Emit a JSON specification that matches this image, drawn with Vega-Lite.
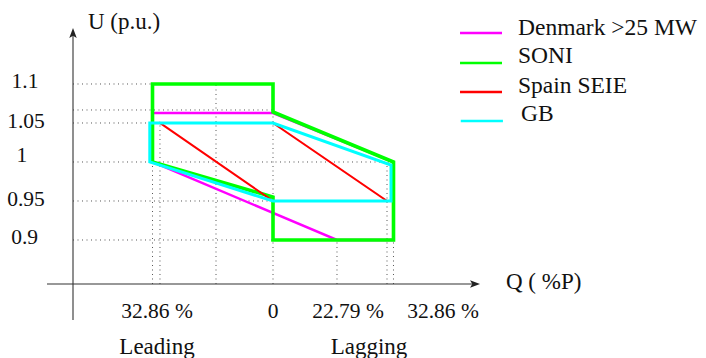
{
  "$schema": "https://vega.github.io/schema/vega-lite/v6.json",
  "width": 706,
  "height": 358,
  "autosize": "none",
  "padding": 0,
  "background": "white",
  "config": {"view": {"stroke": null}},
  "datasets": {
    "grid": [
      {"x": -54.54, "y": 1.1, "x2": -32.86, "y2": 1.1},
      {"x": -54.54, "y": 1.0667, "x2": 0, "y2": 1.0667},
      {"x": -54.54, "y": 1.05, "x2": -33.6, "y2": 1.05},
      {"x": -54.54, "y": 1.0, "x2": 32.86, "y2": 1.0},
      {"x": -54.54, "y": 0.95, "x2": 0, "y2": 0.95},
      {"x": -54.54, "y": 0.9, "x2": 0, "y2": 0.9},
      {"x": -32.86, "y": 0.8436, "x2": -32.86, "y2": 1.0},
      {"x": -30.82, "y": 0.8436, "x2": -30.82, "y2": 1.05},
      {"x": -15.54, "y": 0.8436, "x2": -15.54, "y2": 1.1},
      {"x": 0, "y": 0.8436, "x2": 0, "y2": 1.1},
      {"x": 17.45, "y": 0.8436, "x2": 17.45, "y2": 0.9},
      {"x": 31.09, "y": 0.8436, "x2": 31.09, "y2": 1.0},
      {"x": 32.86, "y": 0.8436, "x2": 32.86, "y2": 0.9}
    ],
    "axes": [
      {"x": -54.54, "y": 0.7974, "x2": -54.54, "y2": 1.1628},
      {"x": -61.63, "y": 0.8436, "x2": 55.5, "y2": 0.8436}
    ],
    "arrows": [
      {"dir": "up", "x": -54.54, "y": 1.1654},
      {"dir": "right", "x": 55.09, "y": 0.8436}
    ],
    "poly": [
      {"series": "Denmark >25 MW", "i": 0, "x": -32.86, "y": 1.0628},
      {"series": "Denmark >25 MW", "i": 1, "x": 0, "y": 1.0628},
      {"series": "Denmark >25 MW", "i": 2, "x": 32.86, "y": 1.0},
      {"series": "Denmark >25 MW", "i": 3, "x": 32.86, "y": 0.9},
      {"series": "Denmark >25 MW", "i": 4, "x": 17.45, "y": 0.9},
      {"series": "Denmark >25 MW", "i": 5, "x": -32.86, "y": 1.0},
      {"series": "Denmark >25 MW", "i": 6, "x": -32.86, "y": 1.0628},
      {"series": "SONI", "i": 0, "x": -32.86, "y": 1.1},
      {"series": "SONI", "i": 1, "x": 0, "y": 1.1},
      {"series": "SONI", "i": 2, "x": 0, "y": 1.0641},
      {"series": "SONI", "i": 3, "x": 32.86, "y": 1.0},
      {"series": "SONI", "i": 4, "x": 32.86, "y": 0.9},
      {"series": "SONI", "i": 5, "x": 0, "y": 0.9},
      {"series": "SONI", "i": 6, "x": 0, "y": 0.9551},
      {"series": "SONI", "i": 7, "x": -32.86, "y": 1.0},
      {"series": "SONI", "i": 8, "x": -32.86, "y": 1.1},
      {"series": "Spain SEIE", "i": 0, "x": -30.82, "y": 1.05},
      {"series": "Spain SEIE", "i": 1, "x": 0, "y": 1.05},
      {"series": "Spain SEIE", "i": 2, "x": 31.09, "y": 0.95},
      {"series": "Spain SEIE", "i": 3, "x": 0, "y": 0.95},
      {"series": "Spain SEIE", "i": 4, "x": -30.82, "y": 1.05},
      {"series": "GB", "i": 0, "x": -33.6, "y": 1.05},
      {"series": "GB", "i": 1, "x": 0, "y": 1.05},
      {"series": "GB", "i": 2, "x": 32.18, "y": 0.9962},
      {"series": "GB", "i": 3, "x": 32.18, "y": 0.95},
      {"series": "GB", "i": 4, "x": 0, "y": 0.95},
      {"series": "GB", "i": 5, "x": -33.6, "y": 1.0},
      {"series": "GB", "i": 6, "x": -33.6, "y": 1.05}
    ],
    "legend": [
      {"series": "Denmark >25 MW", "x": 51.0, "x2": 62.45, "y": 1.1654, "tx": 66.81, "ty": 1.1628},
      {"series": "SONI", "x": 51.0, "x2": 62.45, "y": 1.1269, "tx": 66.81, "ty": 1.1269},
      {"series": "Spain SEIE", "x": 51.0, "x2": 62.45, "y": 1.0897, "tx": 66.81, "ty": 1.0885},
      {"series": "GB", "x": 51.2, "x2": 62.7, "y": 1.0526, "tx": 67.63, "ty": 1.0526}
    ],
    "labelsC": [
      {"t": "1.1", "x": -67.63, "y": 1.0949},
      {"t": "1.05", "x": -67.36, "y": 1.0436},
      {"t": "1", "x": -68.45, "y": 1.0},
      {"t": "0.95", "x": -67.36, "y": 0.9436},
      {"t": "0.9", "x": -67.72, "y": 0.8949},
      {"t": "32.86 %", "x": -31.63, "y": 0.8},
      {"t": "0", "x": 0, "y": 0.8},
      {"t": "22.79 %", "x": 20.45, "y": 0.8},
      {"t": "32.86 %", "x": 46.36, "y": 0.8}
    ],
    "labelsW": [
      {"t": "Leading", "x": -31.63, "y": 0.7538},
      {"t": "Lagging", "x": 26.18, "y": 0.7538}
    ],
    "labelsL": [
      {"t": "U (p.u.)", "x": -50.45, "y": 1.1705},
      {"t": "Q ( %P)", "x": 63.54, "y": 0.8372}
    ]
  },
  "layer": [
    {
      "data": {"name": "grid"},
      "mark": {"type": "rule", "color": "#555", "strokeWidth": 1, "strokeDash": [1, 3.5]},
      "encoding": {
        "x": {"field": "x", "type": "quantitative", "scale": {"domain": [-74.448, 118.08], "nice": false, "zero": false}, "axis": null},
        "y": {"field": "y", "type": "quantitative", "scale": {"domain": [0.748718, 1.207692], "nice": false, "zero": false}, "axis": null},
        "x2": {"field": "x2"},
        "y2": {"field": "y2"}
      }
    },
    {
      "data": {"name": "axes"},
      "mark": {"type": "rule", "color": "#333", "strokeWidth": 1.1},
      "encoding": {
        "x": {"field": "x", "type": "quantitative", "scale": {"domain": [-74.448, 118.08], "nice": false, "zero": false}, "axis": null},
        "y": {"field": "y", "type": "quantitative", "scale": {"domain": [0.748718, 1.207692], "nice": false, "zero": false}, "axis": null},
        "x2": {"field": "x2"},
        "y2": {"field": "y2"}
      }
    },
    {
      "data": {"name": "arrows"},
      "mark": {"type": "point", "filled": true, "size": 100, "color": "#222", "opacity": 1, "strokeWidth": 0},
      "encoding": {
        "x": {"field": "x", "type": "quantitative", "scale": {"domain": [-74.448, 118.08], "nice": false, "zero": false}, "axis": null},
        "y": {"field": "y", "type": "quantitative", "scale": {"domain": [0.748718, 1.207692], "nice": false, "zero": false}, "axis": null},
        "shape": {"field": "dir", "type": "nominal", "legend": null, "scale": {"domain": ["up", "right"], "range": ["M0,-1L0.75,1L0,0.55L-0.75,1Z", "M1,0L-1,0.75L-0.55,0L-1,-0.75Z"]}}
      }
    },
    {
      "data": {"name": "poly"},
      "transform": [{"filter": "datum.series === 'Denmark >25 MW'"}],
      "mark": {"type": "line", "color": "#ff00ff", "strokeWidth": 2.5, "strokeCap": "square", "strokeJoin": "miter"},
      "encoding": {
        "x": {"field": "x", "type": "quantitative", "scale": {"domain": [-74.448, 118.08], "nice": false, "zero": false}, "axis": null},
        "y": {"field": "y", "type": "quantitative", "scale": {"domain": [0.748718, 1.207692], "nice": false, "zero": false}, "axis": null},
        "order": {"field": "i", "type": "quantitative"}
      }
    },
    {
      "data": {"name": "poly"},
      "transform": [{"filter": "datum.series === 'SONI'"}],
      "mark": {"type": "line", "color": "#00ff00", "strokeWidth": 3.6, "strokeCap": "square", "strokeJoin": "miter"},
      "encoding": {
        "x": {"field": "x", "type": "quantitative", "scale": {"domain": [-74.448, 118.08], "nice": false, "zero": false}, "axis": null},
        "y": {"field": "y", "type": "quantitative", "scale": {"domain": [0.748718, 1.207692], "nice": false, "zero": false}, "axis": null},
        "order": {"field": "i", "type": "quantitative"}
      }
    },
    {
      "data": {"name": "poly"},
      "transform": [{"filter": "datum.series === 'Spain SEIE'"}],
      "mark": {"type": "line", "color": "#ff0000", "strokeWidth": 2, "strokeCap": "square", "strokeJoin": "miter"},
      "encoding": {
        "x": {"field": "x", "type": "quantitative", "scale": {"domain": [-74.448, 118.08], "nice": false, "zero": false}, "axis": null},
        "y": {"field": "y", "type": "quantitative", "scale": {"domain": [0.748718, 1.207692], "nice": false, "zero": false}, "axis": null},
        "order": {"field": "i", "type": "quantitative"}
      }
    },
    {
      "data": {"name": "poly"},
      "transform": [{"filter": "datum.series === 'GB'"}],
      "mark": {"type": "line", "color": "#00ffff", "strokeWidth": 3, "strokeCap": "square", "strokeJoin": "miter"},
      "encoding": {
        "x": {"field": "x", "type": "quantitative", "scale": {"domain": [-74.448, 118.08], "nice": false, "zero": false}, "axis": null},
        "y": {"field": "y", "type": "quantitative", "scale": {"domain": [0.748718, 1.207692], "nice": false, "zero": false}, "axis": null},
        "order": {"field": "i", "type": "quantitative"}
      }
    },
    {
      "data": {"name": "legend"},
      "mark": {"type": "rule", "strokeWidth": 2.4},
      "encoding": {
        "x": {"field": "x", "type": "quantitative", "scale": {"domain": [-74.448, 118.08], "nice": false, "zero": false}, "axis": null},
        "y": {"field": "y", "type": "quantitative", "scale": {"domain": [0.748718, 1.207692], "nice": false, "zero": false}, "axis": null},
        "x2": {"field": "x2"},
        "color": {"field": "series", "type": "nominal", "legend": null, "scale": {"domain": ["Denmark >25 MW", "SONI", "Spain SEIE", "GB"], "range": ["#ff00ff", "#00ff00", "#ff0000", "#00ffff"]}}
      }
    },
    {
      "data": {"name": "legend"},
      "mark": {"type": "text", "align": "left", "baseline": "alphabetic", "font": "Liberation Serif", "fontSize": 23.5, "color": "#111"},
      "encoding": {
        "x": {"field": "tx", "type": "quantitative", "scale": {"domain": [-74.448, 118.08], "nice": false, "zero": false}, "axis": null},
        "y": {"field": "ty", "type": "quantitative", "scale": {"domain": [0.748718, 1.207692], "nice": false, "zero": false}, "axis": null},
        "text": {"field": "series"}
      }
    },
    {
      "data": {"name": "labelsC"},
      "mark": {"type": "text", "align": "center", "baseline": "alphabetic", "font": "Liberation Serif", "fontSize": 21.5, "color": "#111"},
      "encoding": {
        "x": {"field": "x", "type": "quantitative", "scale": {"domain": [-74.448, 118.08], "nice": false, "zero": false}, "axis": null},
        "y": {"field": "y", "type": "quantitative", "scale": {"domain": [0.748718, 1.207692], "nice": false, "zero": false}, "axis": null},
        "text": {"field": "t"}
      }
    },
    {
      "data": {"name": "labelsW"},
      "mark": {"type": "text", "align": "center", "baseline": "alphabetic", "font": "Liberation Serif", "fontSize": 23, "color": "#111"},
      "encoding": {
        "x": {"field": "x", "type": "quantitative", "scale": {"domain": [-74.448, 118.08], "nice": false, "zero": false}, "axis": null},
        "y": {"field": "y", "type": "quantitative", "scale": {"domain": [0.748718, 1.207692], "nice": false, "zero": false}, "axis": null},
        "text": {"field": "t"}
      }
    },
    {
      "data": {"name": "labelsL"},
      "mark": {"type": "text", "align": "left", "baseline": "alphabetic", "font": "Liberation Serif", "fontSize": 23, "color": "#111"},
      "encoding": {
        "x": {"field": "x", "type": "quantitative", "scale": {"domain": [-74.448, 118.08], "nice": false, "zero": false}, "axis": null},
        "y": {"field": "y", "type": "quantitative", "scale": {"domain": [0.748718, 1.207692], "nice": false, "zero": false}, "axis": null},
        "text": {"field": "t"}
      }
    }
  ]
}
